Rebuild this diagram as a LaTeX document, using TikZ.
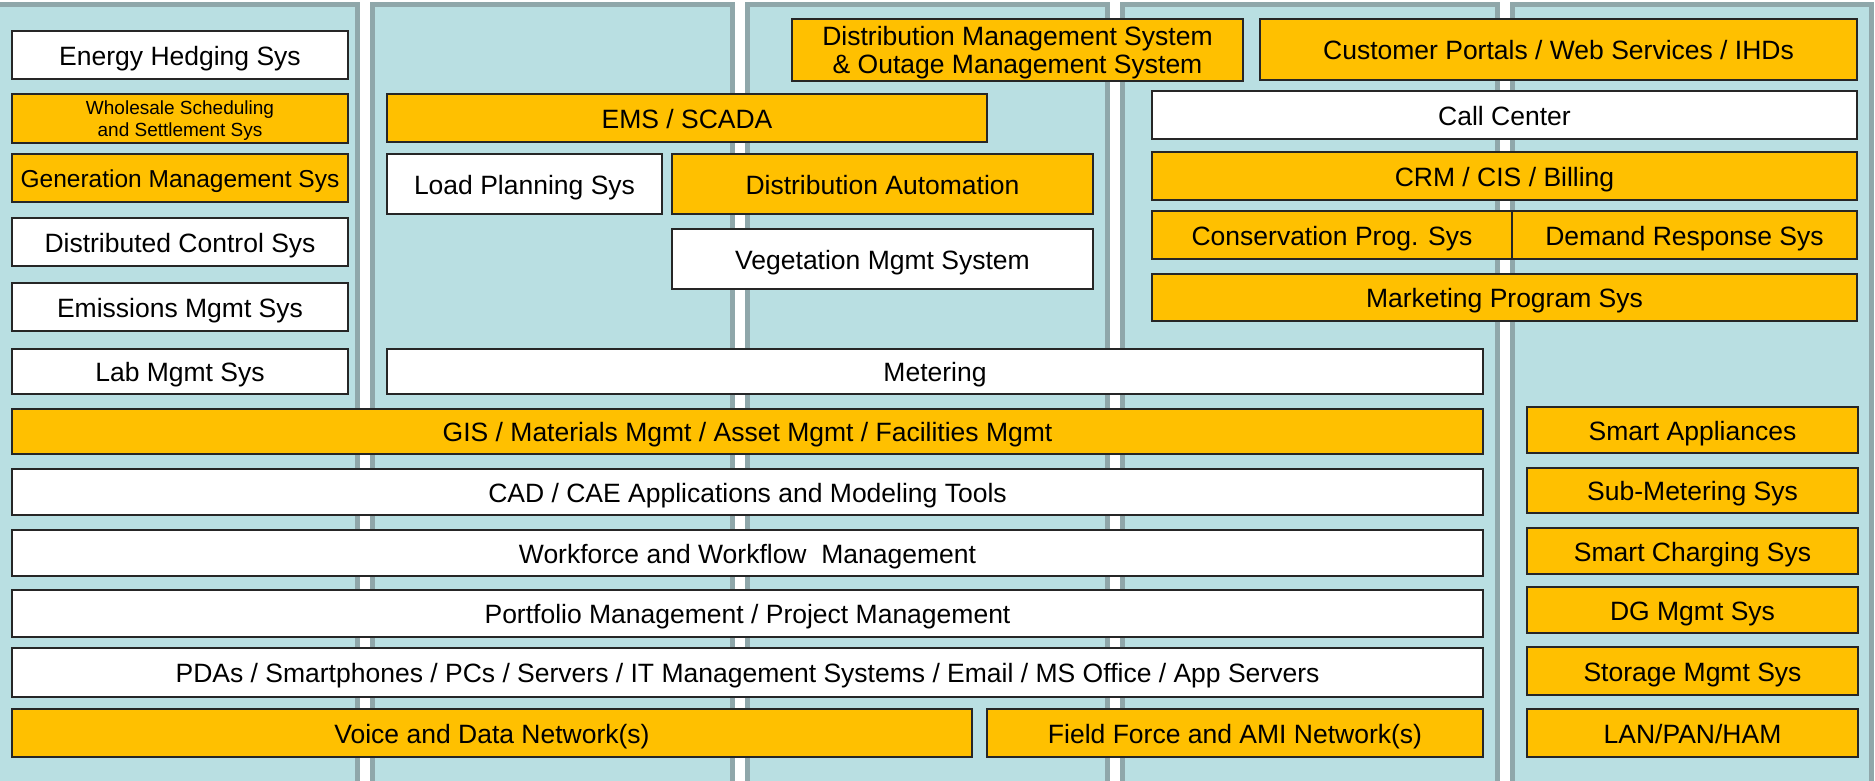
\documentclass[tikz,border=0pt]{standalone}
\usepackage{fontspec}
\setmainfont{Liberation Sans}
\definecolor{lanefill}{HTML}{B9DFE2}
\definecolor{laneline}{HTML}{8FA7AA}
\definecolor{sysyellow}{HTML}{FFC000}
% single-line box: caps centred vertically
\newcommand\sysnode[7]{\node[oneline, #6, minimum width={#4-#2}, minimum height={#5-#3}] (#1) at ({(#2+#4)/2},{(#3+#5)/2}) {#7};}
% multi-line box
\newcommand\sysnodem[8]{\node[#6, minimum width={#4-#2}, minimum height={#5-#3}] (#1) at ({(#2+#4)/2},{(#3+#5)/2}) {\raisebox{#7}[\height][\depth]{\begin{tabular}{@{}c@{}}#8\end{tabular}}};}
\begin{document}
\begin{tikzpicture}[x=1pt,y=-1pt,
  lane/.style={fill=lanefill, draw=laneline, line width=5pt},
  sysbox/.style={draw=black!85, line width=1.8pt, inner sep=0pt, outer sep=0pt, font=\fontsize{26.5}{28}\selectfont},
  oneline/.style={text height=20pt, text depth=0pt},
  yel/.style={sysbox, fill=sysyellow},
  wht/.style={sysbox, fill=white},
  smalltext/.style={font=\fontsize{19}{22.5}\selectfont}]
\useasboundingbox (0,0) rectangle (1875,780);
% lanes
\draw[lane] (-10,4) rectangle (357.5,800);
\draw[lane] (372.5,4) rectangle (732.5,800);
\draw[lane] (747.5,4) rectangle (1107.5,800);
\draw[lane] (1122.5,4) rectangle (1497.5,800);
\draw[lane] (1512.5,4) rectangle (1871.5,800);
% column 1
\sysnode{energy}{12}{31}{348}{79}{wht}{Energy Hedging Sys}
\sysnodem{wholesale}{12}{94}{348}{143}{yel,smalltext}{-2.5pt}{Wholesale Scheduling\\and Settlement Sys}
\sysnode{generation}{12}{154}{348}{202}{yel,font=\fontsize{24.5}{28}\selectfont,text height=18.5pt}{Generation Management Sys}
\sysnode{distributed}{12}{218}{348}{266}{wht}{Distributed Control Sys}
\sysnode{emissions}{12}{283}{348}{331}{wht}{Emissions Mgmt Sys}
\sysnode{lab}{12}{349}{348}{394}{wht}{Lab Mgmt Sys}
% column 2
\sysnode{ems}{387}{94}{987}{142}{yel}{EMS / SCADA}
\sysnode{load}{387}{154}{662}{214}{wht}{Load Planning Sys}
\sysnode{da}{672}{154}{1093}{214}{yel}{Distribution Automation}
\sysnode{veg}{672}{229}{1093}{289}{wht}{Vegetation Mgmt System}
\sysnode{metering}{387}{349}{1483}{394}{wht}{Metering}
% columns 3-4
\sysnodem{dms}{792}{19}{1243}{81}{yel}{-3.4pt}{Distribution Management System\\\& Outage Management System}
\sysnode{portals}{1260}{19}{1857}{80}{yel}{Customer Portals / Web Services / IHDs}
\sysnode{call}{1152}{91}{1857}{139}{wht}{Call Center}
\sysnode{crm}{1152}{152}{1857}{200}{yel}{CRM / CIS / Billing}
\sysnode{conserv}{1152}{211}{1512}{259}{yel}{Conservation Prog. Sys}
\sysnode{demand}{1512}{211}{1857}{259}{yel}{Demand Response Sys}
\sysnode{marketing}{1152}{274}{1857}{321}{yel}{Marketing Program Sys}
% full rows
\sysnode{gis}{12}{409}{1483}{454}{yel}{GIS / Materials Mgmt / Asset Mgmt / Facilities Mgmt}
\sysnode{cad}{12}{469}{1483}{515}{wht}{CAD / CAE Applications and Modeling Tools}
\sysnode{workforce}{12}{530}{1483}{576}{wht}{Workforce and Workflow\ \ Management}
\sysnode{portfolio}{12}{590}{1483}{637}{wht}{Portfolio Management / Project Management}
\sysnode{pdas}{12}{648}{1483}{697}{wht}{PDAs / Smartphones / PCs / Servers / IT Management Systems / Email / MS Office / App Servers}
\sysnode{voice}{12}{709}{972}{757}{yel}{Voice and Data Network(s)}
\sysnode{field}{987}{709}{1483}{757}{yel}{Field Force and AMI Network(s)}
% column 5
\sysnode{appl}{1527}{407}{1858}{453}{yel}{Smart Appliances}
\sysnode{submeter}{1527}{468}{1858}{513}{yel}{Sub-Metering Sys}
\sysnode{charging}{1527}{528}{1858}{574}{yel}{Smart Charging Sys}
\sysnode{dg}{1527}{587}{1858}{633}{yel}{DG Mgmt Sys}
\sysnode{storage}{1527}{647}{1858}{695}{yel}{Storage Mgmt Sys}
\sysnode{lan}{1527}{709}{1858}{757}{yel}{LAN/PAN/HAM}
\end{tikzpicture}
\end{document}
